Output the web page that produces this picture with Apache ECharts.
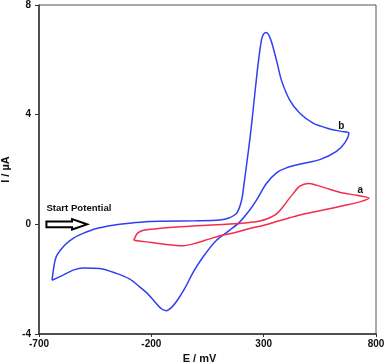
<!DOCTYPE html>
<html>
<head>
<meta charset="utf-8">
<script src="https://cdn.jsdelivr.net/npm/echarts@6/dist/echarts.min.js"></script>
<style>html,body{margin:0;padding:0;background:#fff}#c{width:387px;height:362px}</style>
</head>
<body>
<div id="c"></div>
<script>
// Curve b (blue): potential (mV) and current (µA), in scan order around the loop
const blueE = [-642,-630,-620,-586,-548,-504,-444,-370,-296,-207,-148,0,105,142,179,201,213,226,240,253,265,276,290,300,312,323,335,357,379,416,461,520,594,646,679,
  661,624,550,475,401,357,312,268,238,194,149,90,30,-14,-50,-85,-110,-133,-155,-185,-220,-252,-296,-355,-430,-504,-548,-593,-642];
const blueI = [-2.04,-1.37,-1.12,-0.76,-0.51,-0.33,-0.15,-0.03,0.04,0.10,0.11,0.13,0.16,0.22,0.40,0.85,1.5,2.3,3.2,4.17,5.1,5.9,6.72,6.95,7.0,6.9,6.65,5.99,5.26,4.53,4.05,3.69,3.48,3.39,3.33,
  2.97,2.66,2.36,2.22,2.06,1.88,1.49,0.88,0.52,0.09,-0.21,-0.58,-1.19,-1.75,-2.32,-2.78,-3.03,-3.15,-3.08,-2.82,-2.5,-2.28,-2.0,-1.79,-1.61,-1.59,-1.67,-1.85,-2.04];
// Curve a (red)
const redE = [-278,-266,-252,-222,-148,1,149,238,283,327,360,386,410,431,461,498,535,594,653,713,769,
  728,653,564,475,416,357,297,238,194,149,105,60,1,-59,-148,-222,-278];
const redI = [-0.58,-0.37,-0.27,-0.2,-0.13,-0.05,0.01,0.07,0.12,0.24,0.4,0.64,0.9,1.12,1.39,1.49,1.43,1.28,1.14,1.06,0.96,
  0.82,0.68,0.52,0.37,0.24,0.1,-0.04,-0.15,-0.25,-0.34,-0.42,-0.53,-0.68,-0.78,-0.72,-0.64,-0.58];
const xTicks = {min:-700, max:800, interval:500};
const yTicks = {min:-4, max:8, interval:4};
const labelA = {text:'a', E:730, I:1.25};
const labelB = {text:'b', E:646, I:3.58};
const arrowFrom = -667, arrowTo = -486;

const blueData = blueE.map((e,i)=>[e,blueI[i]]);
const redData = redE.map((e,i)=>[e,redI[i]]);
const F = 'Liberation Sans, Arial, sans-serif';
const chart = echarts.init(document.getElementById('c'));
const lblStyle = {fontFamily:F, fontWeight:'bold', fontSize:10, color:'#111'};
chart.setOption({
  animation:false,
  grid:{left:39, right:11, top:5, bottom:28, outerBoundsMode:'none', containLabel:false, show:true, borderColor:'#555', borderWidth:1},
  xAxis:{type:'value', min:xTicks.min, max:xTicks.max, interval:xTicks.interval,
    name:'E / mV', nameLocation:'middle', nameGap:17,
    nameTextStyle:{fontFamily:F, fontWeight:'bold', fontSize:11, color:'#111', padding:[0,16,0,0]},
    axisLine:{onZero:false, lineStyle:{color:'#333', width:1.5}},
    axisTick:{length:3, lineStyle:{color:'#333'}},
    axisLabel:{fontFamily:F, fontWeight:'bold', fontSize:10, color:'#111', margin:5},
    splitLine:{show:false}},
  yAxis:{type:'value', min:yTicks.min, max:yTicks.max, interval:yTicks.interval,
    name:'I / µA', nameLocation:'middle', nameGap:26,
    nameTextStyle:{fontFamily:F, fontWeight:'bold', fontSize:11, color:'#111'},
    axisLine:{onZero:false, lineStyle:{color:'#333', width:1.5}},
    axisTick:{length:4, lineStyle:{color:'#333'}},
    axisLabel:{fontFamily:F, fontWeight:'bold', fontSize:10, color:'#111', margin:8},
    splitLine:{show:false}},
  series:[
    {type:'line', data:blueData, smooth:0.3, showSymbol:false, lineStyle:{color:'#2f3ff2', width:1.5},
     markPoint:{symbol:'circle', symbolSize:0, data:[{coord:[labelB.E,labelB.I], label:{show:true, formatter:labelB.text, position:'inside', ...lblStyle}}]}},
    {type:'line', data:redData, smooth:0.3, showSymbol:false, lineStyle:{color:'#f42c4c', width:1.5},
     markPoint:{symbol:'circle', symbolSize:0, data:[{coord:[labelA.E,labelA.I], label:{show:true, formatter:labelA.text, position:'inside', ...lblStyle}}]}}
  ]
});
const p0 = chart.convertToPixel({gridIndex:0}, [arrowFrom, 0]);
const p1 = chart.convertToPixel({gridIndex:0}, [arrowTo, 0]);
const x0 = p0[0], x1 = p1[0], yc = p0[1];
const hx = x1 - 15;
chart.setOption({graphic:[
  {type:'polygon', shape:{points:[[x0,yc-2.8],[hx,yc-2.8],[hx,yc-5.2],[x1,yc],[hx,yc+5.2],[hx,yc+2.8],[x0,yc+2.8]]},
   style:{fill:'#fff', stroke:'#000', lineWidth:2}},
  {type:'text', x:x0, y:yc-16, style:{text:'Start Potential', font:'bold 9.6px '+F, fill:'#111', textVerticalAlign:'middle'}}
]});
</script>
</body>
</html>
